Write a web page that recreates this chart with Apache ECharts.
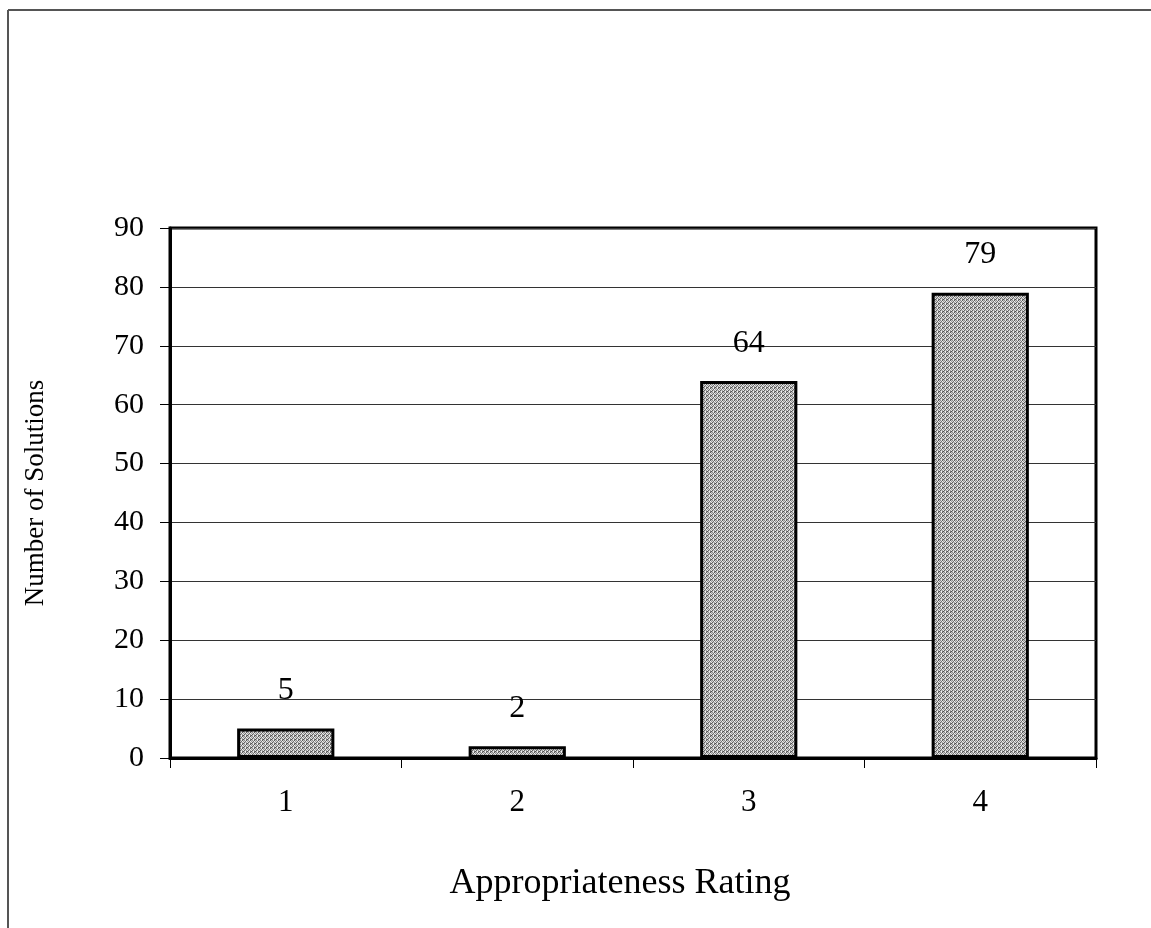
<!DOCTYPE html>
<html>
<head>
<meta charset="utf-8">
<script src="https://cdn.jsdelivr.net/npm/echarts@6/dist/echarts.min.js"></script>
<style>
  html, body { margin: 0; padding: 0; background: #fff; }
  #chart { width: 1151px; height: 928px; }
</style>
</head>
<body>
<div id="chart"></div>
<script>
// Counts of solutions per appropriateness rating
const ratings = ['1', '2', '3', '4'];
const solutionCounts = [5, 2, 64, 79];
const yTicks = { min: 0, max: 90, step: 10 };

// Small dithered grey tile used as the bar fill
function ditherTile() {
  const shades = [
    '#8c8c8c', '#e0e0e0', '#5a5a5a', '#c8c8c8',
    '#d8d8d8', '#707070', '#f0f0f0', '#9a9a9a',
    '#606060', '#c0c0c0', '#a0a0a0', '#e8e8e8',
    '#b8b8b8', '#f4f4f4', '#787878', '#505050'
  ];
  const c = document.createElement('canvas');
  c.width = 4; c.height = 4;
  const ctx = c.getContext('2d');
  shades.forEach((col, i) => {
    ctx.fillStyle = col;
    ctx.fillRect(i % 4, Math.floor(i / 4), 1, 1);
  });
  return c;
}

const font = '"Liberation Serif", "Times New Roman", serif';
const chart = echarts.init(document.getElementById('chart'), null, { renderer: 'canvas' });

chart.setOption({
  backgroundColor: '#fff',
  animation: false,
  graphic: [
    { type: 'line', shape: { x1: 8, y1: 10, x2: 1151, y2: 10 }, style: { stroke: '#555', lineWidth: 2 } },
    { type: 'line', shape: { x1: 8, y1: 10, x2: 8, y2: 928 }, style: { stroke: '#555', lineWidth: 2 } }
  ],
  grid: {
    left: 170, top: 228, right: 55, bottom: 170,
    show: true, borderColor: '#000', borderWidth: 3, backgroundColor: 'transparent'
  },
  xAxis: {
    type: 'category',
    data: ratings,
    boundaryGap: true,
    name: 'Appropriateness Rating',
    nameLocation: 'middle',
    nameGap: 108,
    nameTextStyle: { fontFamily: font, fontSize: 36, color: '#000', padding: [0, 26, 0, 0] },
    axisLine: { lineStyle: { color: '#000', width: 3 } },
    axisTick: { show: true, length: 10, lineStyle: { color: '#000', width: 1 } },
    axisLabel: { fontFamily: font, fontSize: 31, color: '#000', margin: 29 }
  },
  yAxis: {
    type: 'value',
    min: yTicks.min, max: yTicks.max, interval: yTicks.step,
    name: 'Number of Solutions',
    nameLocation: 'middle',
    nameRotate: 90,
    nameGap: 121,
    nameTextStyle: { fontFamily: font, fontSize: 27, color: '#000' },
    axisLine: { show: true, lineStyle: { color: '#000', width: 3 } },
    axisTick: { show: true, length: 10, lineStyle: { color: '#000', width: 1 } },
    axisLabel: { fontFamily: font, fontSize: 30, color: '#000', margin: 26 },
    splitLine: { show: true, lineStyle: { color: '#333', width: 1 } }
  },
  series: [{
    type: 'bar',
    barWidth: '42%',
    data: solutionCounts,
    itemStyle: {
      color: { image: ditherTile(), repeat: 'repeat' },
      borderColor: '#000',
      borderWidth: 3
    },
    label: {
      show: true,
      position: 'top',
      distance: 22,
      fontFamily: font,
      fontSize: 32,
      color: '#000'
    }
  }]
});
</script>
</body>
</html>
